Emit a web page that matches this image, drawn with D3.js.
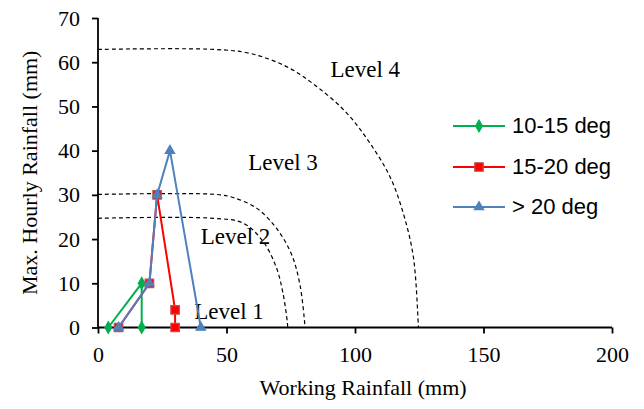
<!DOCTYPE html>
<html>
<head>
  <title>Working Rainfall vs Max. Hourly Rainfall</title>
  <script src="https://d3js.org/d3.v7.min.js"></script>
  <style>
    body { margin: 0; background: #fff; }
  </style>
</head>
<body>
  <div id="chart"></div>
  <script>
    // Series (x = working rainfall, y = max. hourly rainfall)
    const seriesNames = ["10-15 deg", "15-20 deg", "> 20 deg"];
    const green = [[4, 0], [17, 10], [17, 0]];
    const red = [[8, 0], [20, 10], [23, 30], [30, 4], [30, 0]];
    const blue = [[8, 0], [20, 10], [23, 30], [28, 40], [40, 0]];

    // Dashed level boundaries
    const level2 = [[0, 24.7], [45, 24.7], [56.5, 23.6], [64.3, 19.4], [69.5, 13.4], [72.1, 7.4], [73.7, 1], [73.8, 0]];
    const level3 = [[0, 30.1], [46, 30.1], [52.5, 29.4], [61.7, 27], [69.5, 22.4], [75.4, 16.4], [78.6, 9.6], [80.5, 0.6], [80.6, 0]];
    const level4 = [[0, 62.9], [45, 62.9], [59.1, 62], [73.4, 59], [85.1, 54.5], [96.8, 48.5], [105.8, 41.7], [113.6, 34.1], [118.8, 25.8], [122.7, 16], [124.6, 1], [124.7, 0]];
    const levelLabels = [
      { text: "Level 1", x: 51, y: 3.2 },
      { text: "Level 2", x: 53.5, y: 20.0 },
      { text: "Level 3", x: 72, y: 36.8 },
      { text: "Level 4", x: 104, y: 57.8 }
    ];

    const xTicks = [0, 50, 100, 150, 200];
    const yTicks = [0, 10, 20, 30, 40, 50, 60, 70];

    const W = 644, H = 409;
    const svg = d3.select("#chart").append("svg")
      .attr("width", W).attr("height", H);

    const x = d3.scaleLinear().domain([0, 200]).range([98, 612]);
    const y = d3.scaleLinear().domain([0, 70]).range([327.5, 18]);

    const serif = "'Liberation Serif', 'DejaVu Serif', serif";
    const sans = "'Liberation Sans', Arial, sans-serif";

    // dashed curves
    const curveLine = d3.line().x(d => x(d[0])).y(d => y(d[1])).curve(d3.curveCatmullRom.alpha(0.5));
    [level2, level3, level4].forEach(pts => {
      svg.append("path")
        .attr("d", curveLine(pts))
        .attr("fill", "none")
        .attr("stroke", "#000")
        .attr("stroke-width", 1.2)
        .attr("stroke-dasharray", "4,3");
    });

    svg.selectAll(".lvl").data(levelLabels).enter().append("text")
      .attr("x", d => x(d.x)).attr("y", d => y(d.y))
      .attr("text-anchor", "middle")
      .attr("dominant-baseline", "middle")
      .style("font-family", serif).style("font-size", "23px")
      .text(d => d.text);

    // axes
    const xAxis = svg.append("g")
      .attr("transform", `translate(0,${y(0)})`)
      .call(d3.axisBottom(x).tickValues(xTicks).tickSize(6).tickPadding(13));
    const yAxis = svg.append("g")
      .attr("transform", `translate(${x(0)},0)`)
      .call(d3.axisLeft(y).tickValues(yTicks).tickSize(6).tickPadding(12));
    [xAxis, yAxis].forEach(g => {
      g.select(".domain").attr("stroke", "#000").attr("stroke-width", 1.8);
      g.selectAll(".tick line").attr("stroke", "#000").attr("stroke-width", 1.8);
      g.selectAll(".tick text").style("font-family", serif).style("font-size", "22px").attr("fill", "#000");
    });
    xAxis.select(".domain").attr("d", `M${x(0)},0H${x(200)}`);
    yAxis.select(".domain").attr("d", `M0,${y(0)}V${y(70)}`);

    svg.append("text")
      .attr("x", 363).attr("y", 395)
      .attr("text-anchor", "middle")
      .style("font-family", serif).style("font-size", "22px")
      .text("Working Rainfall (mm)");
    svg.append("text")
      .attr("transform", `translate(32,${(y(0) + y(70)) / 2}) rotate(-90)`)
      .attr("text-anchor", "middle")
      .attr("dominant-baseline", "middle")
      .style("font-family", serif).style("font-size", "22px")
      .text("Max. Hourly Rainfall (mm)");

    // series lines and markers
    const line = d3.line().x(d => x(d[0])).y(d => y(d[1]));
    const styles = [
      { data: green, color: "#00b050", shape: d3.symbolDiamond, size: 40, edge: "#00b050" },
      { data: red, color: "#ff0000", shape: d3.symbolSquare, size: 72, edge: "#c0504d" },
      { data: blue, color: "#4f81bd", shape: d3.symbolTriangle, size: 38, edge: "#4f81bd" }
    ];

    styles.forEach(s => {
      svg.append("path")
        .attr("d", line(s.data))
        .attr("fill", "none")
        .attr("stroke", s.color)
        .attr("stroke-width", 2);
      svg.selectAll(null).data(s.data).enter().append("path")
        .attr("d", d3.symbol().type(s.shape).size(s.size))
        .attr("transform", d => `translate(${x(d[0])},${y(d[1])})`)
        .attr("fill", s.color)
        .attr("stroke", s.edge)
        .attr("stroke-width", 1.2);
    });

    // legend
    const legY = [126, 167, 207];
    styles.forEach((s, i) => {
      const g = svg.append("g").attr("transform", `translate(0,${legY[i]})`);
      g.append("line").attr("x1", 453).attr("x2", 505).attr("y1", 0).attr("y2", 0)
        .attr("stroke", s.color).attr("stroke-width", 2);
      g.append("path")
        .attr("d", d3.symbol().type(s.shape).size(s.size))
        .attr("transform", "translate(479,0)")
        .attr("fill", s.color).attr("stroke", s.edge).attr("stroke-width", 1.2);
      g.append("text")
        .attr("x", 512).attr("y", 1)
        .attr("dominant-baseline", "middle")
        .style("font-family", sans).style("font-size", "22px")
        .text(seriesNames[i]);
    });
  </script>
</body>
</html>
